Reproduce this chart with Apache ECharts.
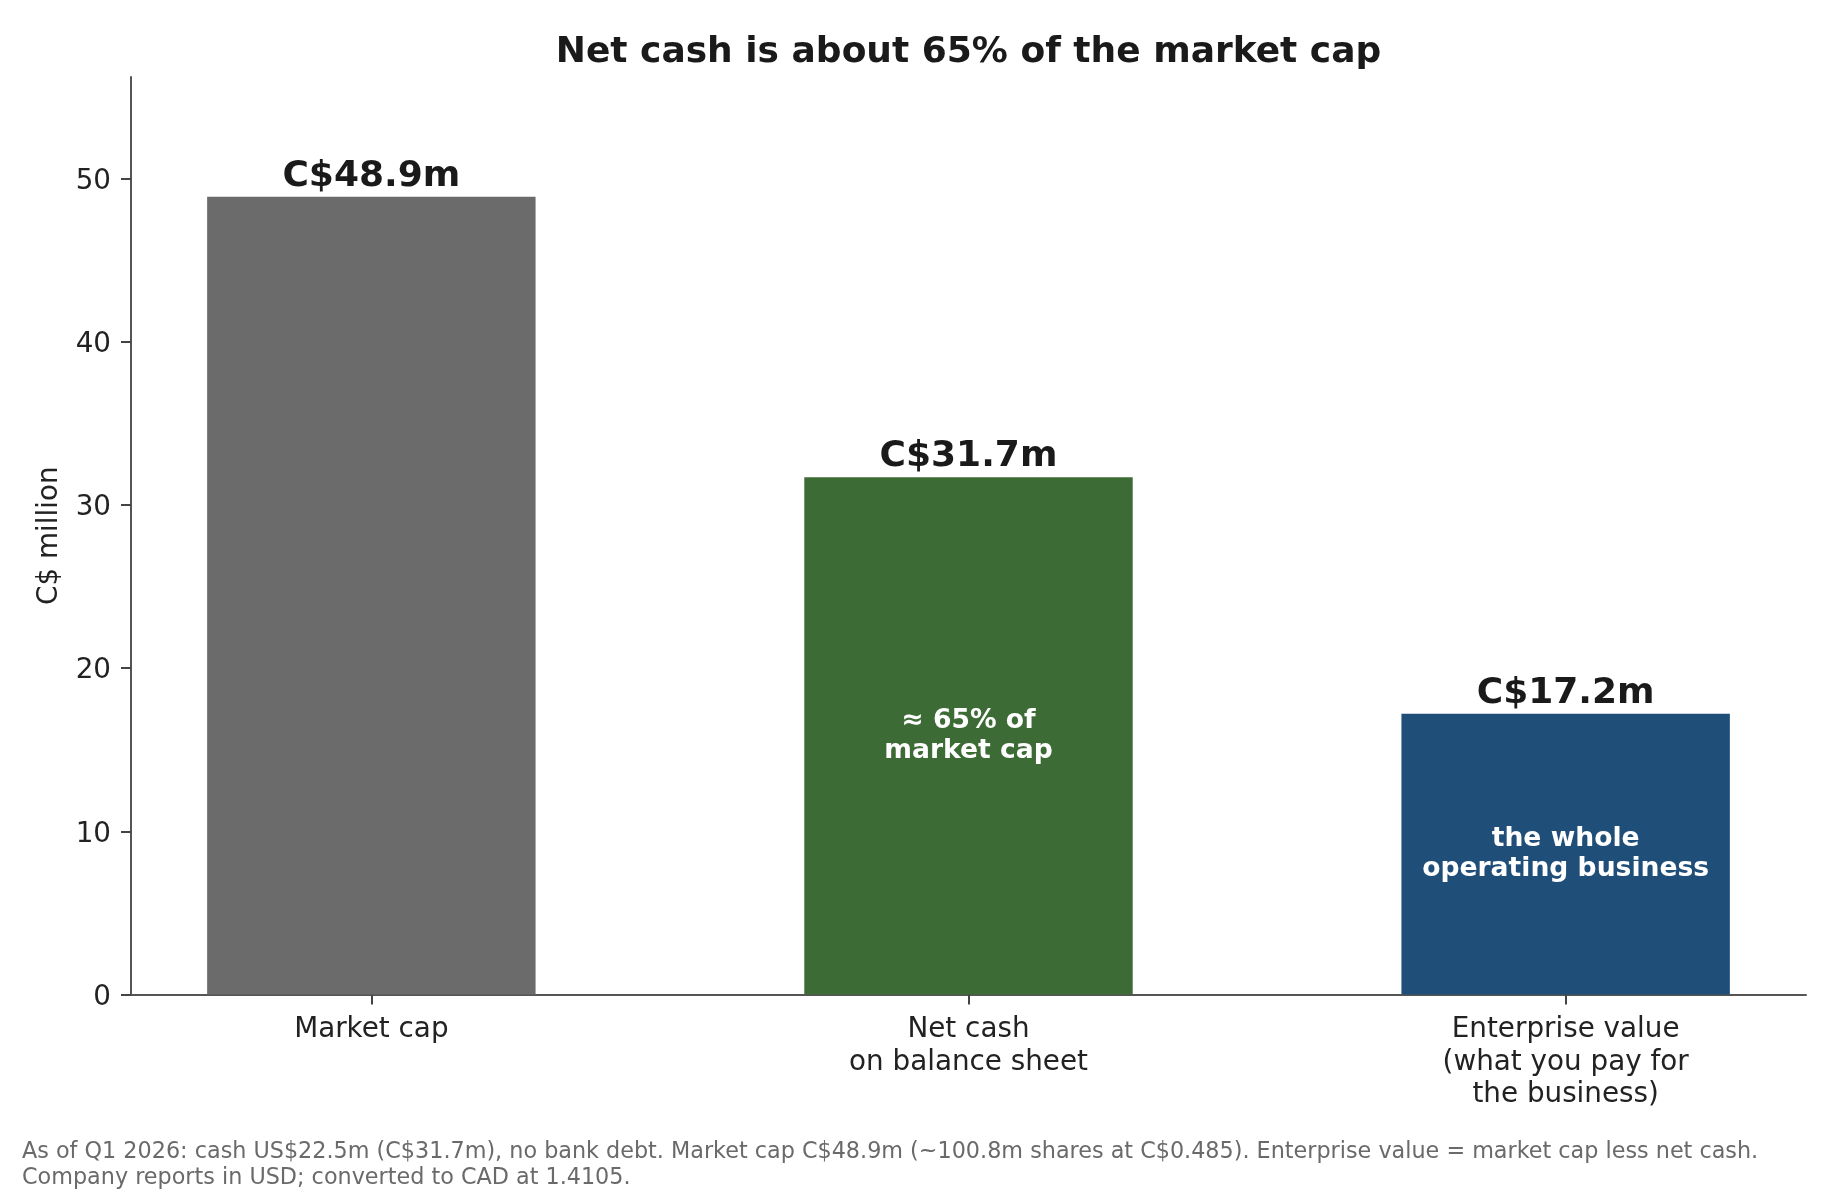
<!DOCTYPE html>
<head>
    <meta charset="utf-8">
    <script src="https://cdn.jsdelivr.net/npm/echarts@6/dist/echarts.min.js"></script>
    <title>Net cash vs market cap</title>
    <style>html,body{margin:0;padding:0;background:#fff;}</style>
</head>
<body>
    <div id="main" style="width:1839px;height:1200px;"></div>
    <script type="text/javascript">
        // data
        var categories = ['Market cap', 'Net cash\non balance sheet', 'Enterprise value\n(what you pay for\nthe business)'];
        var values = [48.9, 31.7, 17.2];
        var valueLabels = ['C$48.9m', 'C$31.7m', 'C$17.2m'];
        var innerLabels = ['', '≈ 65% of\nmarket cap', 'the whole\noperating business'];
        var barColors = ['#6b6b6b', '#3d6b35', '#1f4e79'];
        var yTicks = [0, 10, 20, 30, 40, 50];
        var xTicks = [0, 1, 2];
        var footnote = 'As of Q1 2026: cash US$22.5m (C$31.7m), no bank debt. Market cap C$48.9m (~100.8m shares at C$0.485). Enterprise value = market cap less net cash.\nCompany reports in USD; converted to CAD at 1.4105.';

        var font = 'DejaVu Sans';
        var gridLeft = 131, gridRight = 33, gridTop = 77, gridBottom = 205.5;
        var xMin = -0.4025, xMax = 2.4025;
        var gridW = 1839 - gridLeft - gridRight;
        var barW = 0.55 * gridW / (xMax - xMin);

        var barData = values.map(function (v, i) {
            return { value: [i, v], itemStyle: { color: barColors[i] } };
        });

        var myChart = echarts.init(document.getElementById('main'));
        var option = {
            animation: false,
            backgroundColor: '#ffffff',
            textStyle: { fontFamily: font },
            grid: { left: gridLeft, right: gridRight, top: gridTop, bottom: gridBottom },
            graphic: [
                {
                    type: 'text', x: gridLeft + gridW / 2, y: 52.5,
                    style: { text: 'Net cash is about 65% of the market cap', fontFamily: font, fontSize: 36,
                        fontWeight: 'bold', fill: '#1a1a1a', align: 'center', verticalAlign: 'middle' }
                },
                {
                    type: 'text', x: 22, y: 1139.5,
                    style: { text: footnote, fontFamily: font, fontSize: 22.3, lineHeight: 26,
                        fill: '#6a6a6a', align: 'left', verticalAlign: 'top' }
                }
            ],
            xAxis: {
                type: 'value', min: xMin, max: xMax,
                splitLine: { show: false },
                axisLine: { show: true, onZero: false, lineStyle: { color: '#555', width: 2 } },
                axisTick: { show: true, customValues: xTicks, length: 10, lineStyle: { color: '#444', width: 2 } },
                axisLabel: {
                    customValues: xTicks,
                    formatter: function (v) { return categories[Math.round(v)]; },
                    fontFamily: font, fontSize: 27.8, lineHeight: 32.5, color: '#222', margin: 19.5
                }
            },
            yAxis: {
                type: 'value', min: 0, max: 56.235,
                name: 'C$ million', nameLocation: 'middle', nameGap: 67.5,
                nameTextStyle: { fontFamily: font, fontSize: 27.8, color: '#222' },
                splitLine: { show: false },
                axisLine: { show: true, onZero: false, lineStyle: { color: '#555', width: 2 } },
                axisTick: { show: true, customValues: yTicks, length: 10, lineStyle: { color: '#444', width: 2 } },
                axisLabel: {
                    customValues: yTicks, margin: 20,
                    formatter: function (v) { return '{t|' + v + '}'; },
                    rich: { t: { fontFamily: font, fontSize: 27.8, color: '#222', padding: [6, 0, 0, 0] } }
                }
            },
            series: [
                {
                    type: 'bar',
                    data: barData,
                    barWidth: barW,
                    emphasis: { disabled: true },
                    label: {
                        show: true, position: 'inside',
                        formatter: function (p) { return innerLabels[p.dataIndex]; },
                        fontFamily: font, fontSize: 26.6, lineHeight: 30, fontWeight: 'bold', color: '#ffffff'
                    }
                },
                {
                    type: 'bar',
                    data: values.map(function (v, i) { return [i, v]; }),
                    barWidth: barW,
                    barGap: '-100%',
                    itemStyle: { color: 'rgba(0,0,0,0)' },
                    emphasis: { disabled: true },
                    label: {
                        show: true, position: 'top', distance: 2.5,
                        formatter: function (p) { return valueLabels[p.dataIndex]; },
                        fontFamily: font, fontSize: 36, fontWeight: 'bold', color: '#1a1a1a'
                    }
                }
            ]
        };
        myChart.setOption(option);
    </script>
</body>
